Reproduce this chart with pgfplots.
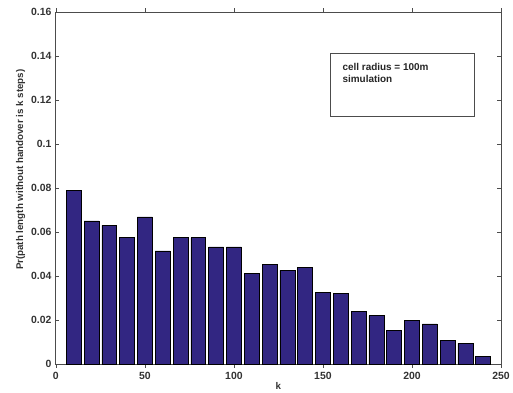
\documentclass[border=0pt]{standalone}
\usepackage{pgfplots}
\pgfplotsset{compat=1.18}
\usepackage{fontspec}
\setmainfont{Liberation Sans}
\definecolor{barblue}{RGB}{50,38,130}
\begin{document}
\begin{tikzpicture}
\begin{axis}[
  scale only axis,
  width=446bp, height=353bp,
  xmin=0, xmax=250, ymin=0, ymax=0.16,
  xtick={0,50,100,150,200,250},
  ytick={0,0.02,0.04,0.06,0.08,0.1,0.12,0.14,0.16},
  yticklabel style={/pgf/number format/fixed,/pgf/number format/precision=2, xshift=-1bp},
  xticklabel style={yshift=-1bp},
  scaled y ticks=false,
  /pgf/number format/assume math mode=true,
  tick align=inside,
  major tick length=3.5bp,
  tick style={black!70, line width=0.6pt},
  axis line style={black!70, line width=0.8pt},
  ticklabel style={font=\fontsize{10.5}{12}\selectfont\bfseries, text=black!80},
  xlabel={k},
  ylabel={Pr(path length without handover is k steps)},
  label style={font=\fontsize{9.8}{12}\selectfont\bfseries, text=black!80},
  xlabel style={yshift=4bp},
  ylabel style={at={(ticklabel cs:0.552)}, yshift=-1bp},
  ybar, bar width=8.4, bar shift=0pt,
]
\addplot[fill=barblue, draw=black, line width=0.6pt] coordinates {
(10,0.0791) (20,0.0651) (30,0.0631) (40,0.0575) (50,0.0669) (60,0.0515)
(70,0.0575) (80,0.0575) (90,0.0533) (100,0.0533) (110,0.0411) (120,0.0453)
(130,0.0426) (140,0.0439) (150,0.0328) (160,0.0323) (170,0.0239) (180,0.0221)
(190,0.0154) (200,0.0201) (210,0.0183) (220,0.0107) (230,0.0095) (240,0.0036)
};
\draw[black!70, line width=0.7pt, fill=white] (axis cs:154,0.1126) rectangle (axis cs:235,0.141);
\node[anchor=north west, align=left, inner sep=0pt, font=\fontsize{10}{11.5}\selectfont\bfseries, text=black!85]
  at (axis cs:160.9,0.1366) {cell radius = 100m\\simulation};
\end{axis}
\path (current axis.south west) ++(-56bp,-27bp) coordinate (bbA);
\path (current axis.north east) ++(11bp,12bp) coordinate (bbB);
\path[use as bounding box] (bbA) rectangle (bbB);
\end{tikzpicture}
\end{document}
